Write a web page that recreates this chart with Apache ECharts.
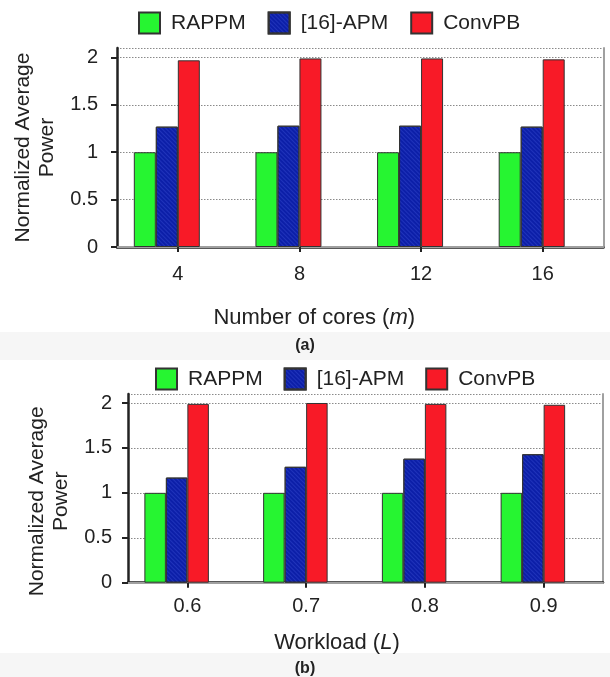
<!DOCTYPE html>
<html>
<head>
<meta charset="utf-8">
<script src="https://cdn.jsdelivr.net/npm/echarts@6/dist/echarts.min.js"></script>
<style>
html,body{margin:0;padding:0;background:#fff;}
#chart{width:610px;height:677px;}
</style>
</head>
<body>
<div id="chart"></div>
<script>
// ---- data ----
const seriesNames = ['RAPPM', '[16]-APM', 'ConvPB'];
const categoriesA = ['4', '8', '12', '16'];
const rappmA = [1.0, 1.0, 1.0, 1.0];
const apmA = [1.27, 1.28, 1.28, 1.27];
const convA = [1.97, 1.99, 1.99, 1.98];
const categoriesB = ['0.6', '0.7', '0.8', '0.9'];
const rappmB = [1.0, 1.0, 1.0, 1.0];
const apmB = [1.17, 1.29, 1.38, 1.43];
const convB = [1.99, 2.0, 1.99, 1.98];
const emptySlot = [null, null, null, null];
const yMin = 0, yMax = 2.1, yStep = 0.5;

const FONT = '"Liberation Sans", Arial, sans-serif';
const colors = ['#26f531', '#0c1fa8', '#f81a27'];
const dark = '#222';
const frameGray = '#a0a0a0';

const chart = echarts.init(document.getElementById('chart'), null, {renderer: 'canvas'});

function mainX(grid, cats, name, nameGap, shift, labelMargin) {
  return {
    type: 'category', gridIndex: grid, data: cats, position: 'bottom',
    axisLine: {show: true, lineStyle: {color: dark, width: 2.5}},
    axisTick: {show: true, alignWithLabel: true, length: 5, lineStyle: {color: dark, width: 2}},
    axisLabel: {fontSize: 20, color: dark, fontFamily: FONT, margin: labelMargin},
    splitLine: {show: false},
    name: name, nameLocation: 'middle', nameGap: nameGap,
    nameTextStyle: {fontSize: 22, color: dark, fontFamily: FONT, padding: [0, shift, 0, 0],
      rich: {i: {fontSize: 22, fontStyle: 'italic', color: dark, fontFamily: FONT}}}
  };
}
function topX(grid, cats) {
  return {
    type: 'category', gridIndex: grid, data: cats, position: 'top',
    axisLine: {show: true, lineStyle: {color: frameGray, width: 2}},
    axisTick: {show: false}, axisLabel: {show: false}, splitLine: {show: false}
  };
}
function mainY(grid, nameGap, shift, labelMargin) {
  return {
    type: 'value', gridIndex: grid, min: yMin, max: yMax, interval: yStep, position: 'left',
    axisLine: {show: true, lineStyle: {color: dark, width: 2.5}},
    axisTick: {show: true, length: 6, lineStyle: {color: dark, width: 2}},
    axisLabel: {fontSize: 20, color: dark, fontFamily: FONT, margin: labelMargin, showMaxLabel: false},
    splitLine: {show: true, lineStyle: {color: '#8a8a8a', type: [1.5, 1.5], width: 1}},
    name: 'Normalized Average\nPower', nameLocation: 'middle', nameGap: nameGap,
    nameTextStyle: {fontSize: 21, color: dark, fontFamily: FONT, lineHeight: 24, align: 'center', padding: [0, shift, 0, 0]}
  };
}
function rightY(grid) {
  return {
    type: 'value', gridIndex: grid, min: yMin, max: yMax, position: 'right',
    axisLine: {show: true, lineStyle: {color: frameGray, width: 2}},
    axisTick: {show: false}, axisLabel: {show: false}, splitLine: {show: false}
  };
}
const blueDecal = {symbol: 'rect', symbolSize: 1, dashArrayX: [[1, 0]], dashArrayY: [1, 2],
  rotation: Math.PI / 4, color: 'rgba(70,90,220,0.35)'};

function barSeries(name, data, xi, yi, color, width, decal) {
  return {
    type: 'bar', name: name, data: data, xAxisIndex: xi, yAxisIndex: yi,
    barWidth: width, barGap: '0%',
    itemStyle: {color: color, borderColor: '#333', borderWidth: 1, decal: decal || null},
    emphasis: {disabled: true}, animation: false
  };
}

const legendCommon = {
  data: seriesNames, orient: 'horizontal', icon: 'rect',
  itemWidth: 21, itemHeight: 21, itemGap: 22,
  textStyle: {fontSize: 21, color: dark, fontFamily: FONT, padding: [0, 0, 0, 6]},
  selectedMode: false
};

const option = {
  animation: false,
  backgroundColor: '#fff',
  aria: {enabled: false, decal: {show: false}},
  graphic: [
    {type: 'rect', shape: {x: 0, y: 332, width: 610, height: 28}, style: {fill: '#f6f6f6'}, z: -10, silent: true},
    {type: 'rect', shape: {x: 0, y: 653, width: 610, height: 24}, style: {fill: '#f6f6f6'}, z: -10, silent: true}
  ],
  title: [
    {text: '(a)', left: 'center', top: 333, textStyle: {fontSize: 16, fontWeight: 'bold', color: dark, fontFamily: FONT}},
    {text: '(b)', left: 'center', top: 656, textStyle: {fontSize: 16, fontWeight: 'bold', color: dark, fontFamily: FONT}}
  ],
  legend: [
    Object.assign({}, legendCommon, {left: 133, top: 6.5}),
    Object.assign({}, legendCommon, {left: 150, top: 362.5, itemGap: 21})
  ],
  grid: [
    {left: 117, right: 6.5, top: 48, height: 199},
    {left: 128, right: 7, top: 394, height: 188.7}
  ],
  xAxis: [
    mainX(0, categoriesA, 'Number of cores ({i|m})', 60, 92, 17),
    topX(0, categoriesA),
    mainX(1, categoriesB, 'Workload ({i|L})', 49, 57, 14),
    topX(1, categoriesB)
  ],
  yAxis: [
    mainY(0, 55, 0, 19),
    rightY(0),
    mainY(1, 50, 26, 16),
    rightY(1)
  ],
  series: [
    barSeries(seriesNames[0], rappmA, 0, 0, colors[0], 22),
    barSeries(seriesNames[1], apmA, 0, 0, colors[1], 22, blueDecal),
    barSeries(seriesNames[2], convA, 0, 0, colors[2], 22),
    barSeries('pad-a', emptySlot, 0, 0, 'transparent', 22),
    barSeries(seriesNames[0], rappmB, 2, 2, colors[0], 21.5),
    barSeries(seriesNames[1], apmB, 2, 2, colors[1], 21.5, blueDecal),
    barSeries(seriesNames[2], convB, 2, 2, colors[2], 21.5),
    barSeries('pad-b', emptySlot, 2, 2, 'transparent', 21.5)
  ]
};
chart.setOption(option);
</script>
</body>
</html>
